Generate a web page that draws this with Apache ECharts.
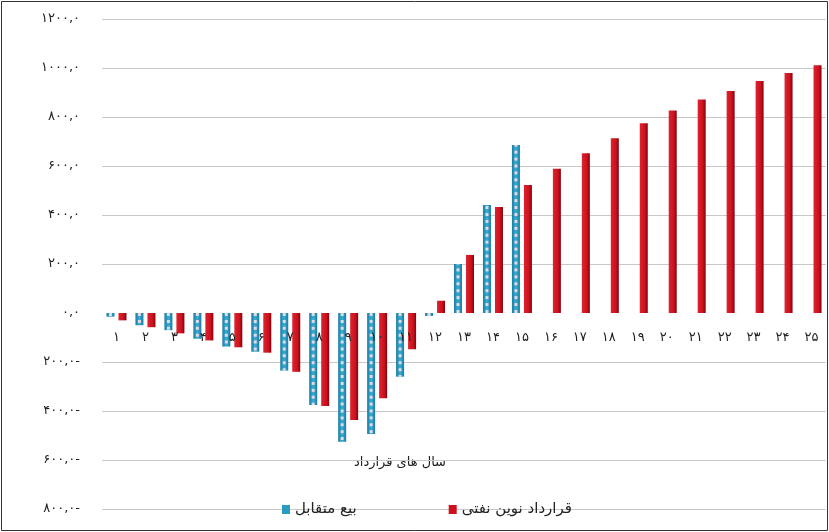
<!DOCTYPE html>
<html>
<head>
<meta charset="utf-8">
<script src="https://cdn.jsdelivr.net/npm/echarts@6/dist/echarts.min.js"></script>
<style>
  html, body { margin: 0; padding: 0; background: #fff; }
  #chart { width: 829px; height: 532px; }
</style>
</head>
<body>
<div id="chart"></div>
<script>
const categories = ['۱', '۲', '۳', '۴', '۵', '۶', '۷', '۸', '۹', '۱۰', '۱۱', '۱۲', '۱۳',
  '۱۴', '۱۵', '۱۶', '۱۷', '۱۸', '۱۹', '۲۰', '۲۱', '۲۲', '۲۳', '۲۴', '۲۵'];

// بیع متقابل
const buybackVals = [-15, -50, -70, -105, -137, -158, -235, -375, -525, -494, -260, -12,
  200, 441, 686, null, null, null, null, null, null, null, null, null, null];

// قرارداد نوین نفتی
const ipcVals = [-30, -58, -83, -112, -140, -162, -240, -380, -437, -348, -148, 50,
  237, 433, 522, 589, 652, 713, 775, 827, 871, 906, 947, 980, 1011];

const seriesNames = ['بیع متقابل', 'قرارداد نوین نفتی'];
const axisTitle = 'سال های قرارداد';

const yMin = -800;
const yMax = 1200;

const faDigits = '۰۱۲۳۴۵۶۷۸۹';
const toFa = s => (s + '').replace(/\d/g, d => faDigits[d]);

const font = "'DejaVu Sans', 'Noto Sans', sans-serif";

// hide the split line at zero only
const gridColors = [];
for (let v = yMin; v <= yMax; v += 200) {
  gridColors.push(v === 0 ? 'rgba(0,0,0,0)' : '#c8c8c8');
}

const gridTop = 19;
const gridBottom = 23;
const plotH = 532 - gridTop - gridBottom;
// category labels sit on the zero line, not at the bottom of the grid
const zeroOffset = -plotH * (0 - yMin) / (yMax - yMin);

const blueFill = new echarts.graphic.LinearGradient(0, 0, 1, 0, [
  { offset: 0, color: '#1a7ca2' },
  { offset: 0.5, color: '#3aaed6' },
  { offset: 1, color: '#1a7ca2' }
]);
const redFill = new echarts.graphic.LinearGradient(0, 0, 1, 0, [
  { offset: 0, color: '#dc2430' },
  { offset: 0.65, color: '#cc101c' },
  { offset: 1, color: '#7a0410' }
]);

const myChart = echarts.init(document.querySelector('#chart'));

const option = {
  animation: false,
  backgroundColor: '#fff',
  grid: { left: 102, right: 3, top: gridTop, bottom: gridBottom },
  graphic: [
    {
      type: 'rect',
      shape: { x: 1.5, y: 1.5, width: 826, height: 529 },
      style: { fill: 'none', stroke: '#333', lineWidth: 1 },
      silent: true
    },
    {
      type: 'text',
      x: 400,
      y: 463,
      style: {
        text: axisTitle,
        font: "13px 'DejaVu Sans', sans-serif",
        fill: '#222',
        textAlign: 'center',
        textVerticalAlign: 'middle'
      }
    }
  ],
  legend: {
    bottom: 10,
    left: 277,
    itemWidth: 8,
    itemHeight: 9,
    itemGap: 92,
    icon: 'rect',
    textStyle: { fontFamily: font, fontSize: 15, color: '#222' },
    data: [
      { name: seriesNames[0], itemStyle: { color: '#2a9cc4' } },
      { name: seriesNames[1], itemStyle: { color: '#cc101c' } }
    ]
  },
  xAxis: {
    type: 'category',
    data: categories,
    z: 5,
    offset: zeroOffset,
    axisLine: { show: false },
    axisTick: { show: false },
    axisLabel: {
      interval: 0,
      margin: 18,
      fontFamily: font,
      fontSize: 13,
      color: '#222'
    }
  },
  yAxis: {
    type: 'value',
    min: yMin,
    max: yMax,
    interval: 200,
    axisLine: { show: false },
    axisTick: { show: false },
    splitLine: { lineStyle: { color: gridColors, width: 1 } },
    axisLabel: {
      margin: 22,
      fontFamily: font,
      fontSize: 13,
      color: '#222',
      formatter(value) {
        return toFa(Math.abs(value)) + ',۰' + (value < 0 ? '-' : '');
      }
    }
  },
  series: [
    {
      name: seriesNames[0],
      type: 'bar',
      data: buybackVals,
      barWidth: 8,
      barGap: '50%',
      itemStyle: { color: blueFill }
    },
    {
      name: seriesNames[1],
      type: 'bar',
      data: ipcVals,
      barWidth: 8,
      itemStyle: { color: redFill }
    },
    {
      // dotted texture on the buy-back bars
      name: 'texture',
      type: 'pictorialBar',
      data: buybackVals,
      symbol: 'rect',
      symbolSize: [3, 3],
      symbolRepeat: true,
      symbolMargin: 2,
      symbolOffset: [-6, 0],
      symbolClip: true,
      z: 3,
      silent: true,
      itemStyle: { color: 'rgba(246,222,226,0.9)' }
    }
  ]
};

myChart.setOption(option);
</script>
</body>
</html>
